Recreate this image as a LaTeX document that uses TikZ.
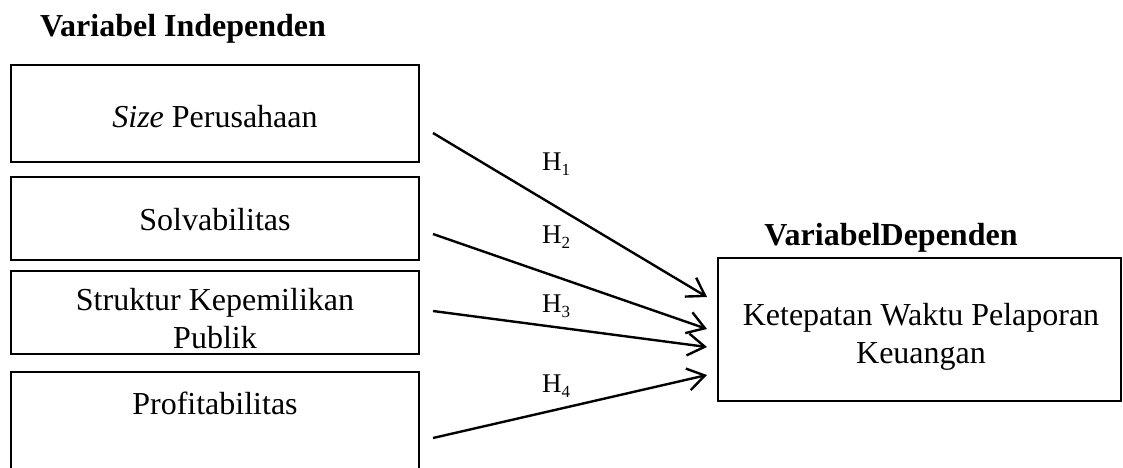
\documentclass[tikz,border=0pt]{standalone}
\usepackage{fontspec}
\setmainfont{Liberation Serif}
\usetikzlibrary{arrows.meta}
\newcommand{\hsub}[1]{\raisebox{-5pt}{\fontsize{17}{17}\selectfont #1}}
\begin{document}
\begin{tikzpicture}[x=1pt,y=-1pt,
  box/.style={draw, line width=1.2pt, inner sep=0pt},
  txt/.style={inner sep=0pt, anchor=base, font=\fontsize{32}{37}\selectfont},
  ttl/.style={inner sep=0pt, anchor=base, font=\fontsize{32}{37}\selectfont\bfseries},
  hyp/.style={inner sep=0pt, anchor=base west, font=\fontsize{27}{30}\selectfont},
  arr/.style={line width=2.4pt, -{Straight Barb[length=17pt,width=22pt]}}]
\useasboundingbox (0,0) rectangle (1123,467);
\node[ttl] (t1) at (183,36) {Variabel Independen};
\node[ttl] (t2) at (891,245) {VariabelDependen};
\node[box, minimum width=408pt, minimum height=97pt] (b1) at (215,113.5) {};
\node[box, minimum width=408pt, minimum height=83pt] (b2) at (215,218.5) {};
\node[box, minimum width=408pt, minimum height=83pt] (b3) at (215,312.5) {};
\draw[line width=1.2pt] (11,480) |- (419,372) -- (419,480);
\node[box, minimum width=403pt, minimum height=143pt] (d) at (919.5,329.5) {};
\node[txt] (l1) at (215,127) {\textit{Size} Perusahaan};
\node[txt] (l2) at (215,230) {Solvabilitas};
\node[txt] (l3a) at (215,310) {Struktur Kepemilikan};
\node[txt] (l3b) at (215,348) {Publik};
\node[txt] (l4) at (215,414) {Profitabilitas};
\node[txt] (r1) at (921,325) {Ketepatan Waktu Pelaporan};
\node[txt] (r2) at (921,363) {Keuangan};
\coordinate (s1) at (433,133); \coordinate (e1) at (707,297);
\coordinate (s2) at (433,234); \coordinate (e2) at (707,329);
\coordinate (s3) at (433,311); \coordinate (e3) at (707,347);
\coordinate (s4) at (433,438); \coordinate (e4) at (707,375);
\draw[arr] (s1) -- (e1);
\draw[arr] (s2) -- (e2);
\draw[arr] (s3) -- (e3);
\draw[arr] (s4) -- (e4);
\node[hyp] (h1) at (542,170) {H\hsub{1}};
\node[hyp] (h2) at (542,243) {H\hsub{2}};
\node[hyp] (h3) at (542,312) {H\hsub{3}};
\node[hyp] (h4) at (542,392) {H\hsub{4}};
\end{tikzpicture}
\end{document}
